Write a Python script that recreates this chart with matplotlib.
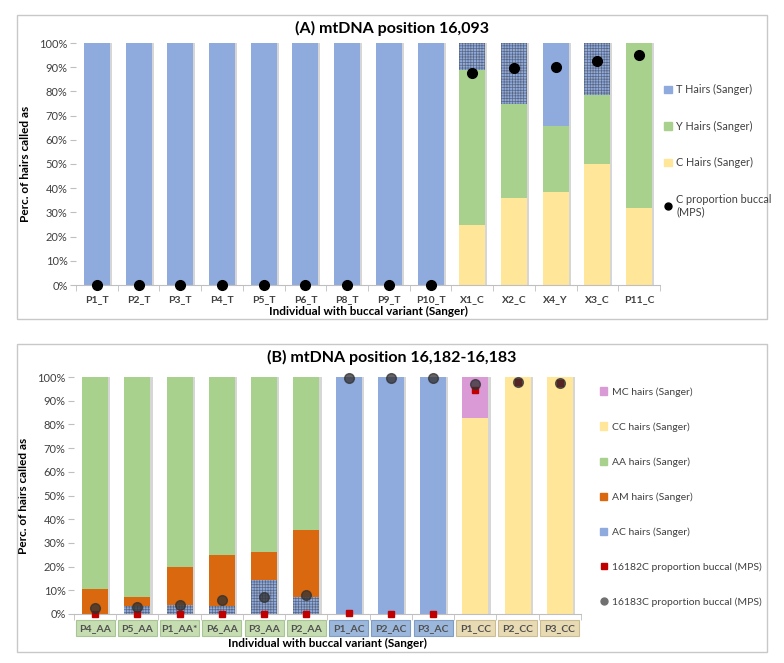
import numpy as np
import matplotlib
matplotlib.use('Agg')
import matplotlib.pyplot as plt
from matplotlib.patches import Rectangle
from matplotlib.transforms import blended_transform_factory
from matplotlib.ticker import PercentFormatter

plt.rcParams['font.family'] = ['Lato', 'DejaVu Sans']
plt.rcParams['hatch.linewidth'] = 0.5

# ---- panel A data (percent) ----
a_labels = ['P1_T', 'P2_T', 'P3_T', 'P4_T', 'P5_T', 'P6_T', 'P8_T', 'P9_T', 'P10_T',
            'X1_C', 'X2_C', 'X4_Y', 'X3_C', 'P11_C']
a_c_hairs = [0, 0, 0, 0, 0, 0, 0, 0, 0, 25, 36, 38.5, 50, 32]
a_y_hairs = [0, 0, 0, 0, 0, 0, 0, 0, 0, 64, 39, 27, 28.5, 68]
a_t_hairs = [100, 100, 100, 100, 100, 100, 100, 100, 100, 0, 0, 34.5, 0, 0]
a_mixed = [0, 0, 0, 0, 0, 0, 0, 0, 0, 11, 25, 0, 21.5, 0]
a_c_buccal = [0, 0, 0, 0, 0, 0, 0, 0, 0, 87.5, 89.5, 90, 92.5, 95]

# ---- panel B data (percent) ----
b_labels = ['P4_AA', 'P5_AA', 'P1_AA*', 'P6_AA', 'P3_AA', 'P2_AA',
            'P1_AC', 'P2_AC', 'P3_AC', 'P1_CC', 'P2_CC', 'P3_CC']
b_groups = ['AA', 'AA', 'AA', 'AA', 'AA', 'AA', 'AC', 'AC', 'AC', 'CC', 'CC', 'CC']
b_mixed = [0, 3.5, 4, 3.5, 14.5, 7, 0, 0, 0, 0, 0, 0]
b_am = [10.5, 3.5, 16, 21.5, 11.5, 28.5, 0, 0, 0, 0, 0, 0]
b_aa = [89.5, 93, 80, 75, 74, 64.5, 0, 0, 0, 0, 0, 0]
b_ac = [0, 0, 0, 0, 0, 0, 100, 100, 100, 0, 0, 0]
b_cc = [0, 0, 0, 0, 0, 0, 0, 0, 0, 82.5, 100, 100]
b_mc = [0, 0, 0, 0, 0, 0, 0, 0, 0, 17.5, 0, 0]
b_16182c = [0, 0, 0, 0, 0, 0, 0.5, 0, 0, 94.5, 98, 97.5]
b_16183c = [2.5, 3, 4, 6, 7, 8, 99.5, 99.5, 99.5, 97, 98, 97.5]

BLUE = '#8faadc'
GREEN = '#a9d18e'
YELLOW = '#ffe699'
ORANGE = '#d9680f'
PINK = '#d99ad6'
HATCH_EDGE = '#5b6780'
TXT = '#404040'
box_colors = {'AA': ('#c5ddb0', '#a9c496'), 'AC': ('#9bb7dc', '#7f9cc4'), 'CC': ('#e8dab2', '#cbbd93')}
W = 0.62

fig = plt.figure(figsize=(7.84, 6.63), dpi=100)

# panel frames (pixel top, height)
for (y0, h) in [(15, 304), (344, 308)]:
    fig.patches.append(Rectangle((17 / 784, 1 - (y0 + h) / 663), 750 / 784, h / 663,
                                 transform=fig.transFigure, fill=False,
                                 edgecolor='#c8c8c8', linewidth=1.0))


def stack(ax, x, vals, color, bottom, hatch=None):
    if hatch:
        ax.bar(x, vals, W, bottom=bottom, color=color, edgecolor=HATCH_EDGE,
               linewidth=0, hatch=hatch, zorder=2)
    else:
        ax.bar(x, vals, W, bottom=bottom, color=color, linewidth=0, zorder=2)
    return bottom + np.array(vals)


def style_axes(ax, n):
    ax.set_xlim(-0.5, n - 0.5)
    ax.set_ylim(0, 100)
    ax.set_yticks(np.arange(0, 101, 10))
    ax.yaxis.set_major_formatter(PercentFormatter(decimals=0))
    for s in ['top', 'right', 'left']:
        ax.spines[s].set_visible(False)
    ax.spines['bottom'].set_color('#bfbfbf')
    ax.spines['bottom'].set_zorder(3)
    ax.tick_params(axis='y', length=4, color='#bfbfbf', labelsize=8, labelcolor=TXT, pad=2)
    ax.set_xticks(np.arange(n))
    ax.set_xticks(np.arange(n + 1) - 0.5, minor=True)
    ax.tick_params(axis='x', which='major', length=0, pad=7)
    ax.tick_params(axis='x', which='minor', length=4, color='#bfbfbf')
    ax.set_ylabel('Perc. of hairs called as', fontsize=8.5, fontweight='bold', color='black', labelpad=6)


# ---------------- panel A ----------------
axA = fig.add_axes([76 / 784, 1 - 285 / 663, 584 / 784, 242 / 663])
xa = np.arange(len(a_labels))
bot = np.zeros(len(xa))
bot = stack(axA, xa, a_c_hairs, YELLOW, bot)
bot = stack(axA, xa, a_y_hairs, GREEN, bot)
bot = stack(axA, xa, a_t_hairs, BLUE, bot)
bot = stack(axA, xa, a_mixed, BLUE, bot, hatch='++++++')
axA.bar(xa + 0.05, bot, W, color='#d6d6d6', linewidth=0, zorder=1)
axA.plot(xa, a_c_buccal, 'o', color='black', markersize=7, linestyle='none', zorder=5, clip_on=False)
style_axes(axA, len(xa))
axA.set_xticklabels(a_labels, fontsize=7.5, fontweight='bold', color=TXT)
axA.set_xlabel('Individual with buccal variant (Sanger)', fontsize=8.5, fontweight='bold')
axA.xaxis.set_label_coords(0.5, -0.108)
axA.xaxis.label.set_va('center')
fig.text(0.5, 1 - 28 / 663, '(A) mtDNA position 16,093', ha='center', va='center',
         fontsize=11.5, fontweight='bold')

a_handles = [Rectangle((0, 0), 1, 1, color=BLUE), Rectangle((0, 0), 1, 1, color=GREEN),
             Rectangle((0, 0), 1, 1, color=YELLOW),
             plt.Line2D([], [], marker='o', color='black', linestyle='none', markersize=5)]
legA = fig.legend(a_handles, ['T Hairs (Sanger)', 'Y Hairs (Sanger)', 'C Hairs (Sanger)',
                              'C proportion buccal\n(MPS)'],
                  loc='upper left', bbox_to_anchor=(660 / 784, 1 - 80 / 663), frameon=False,
                  fontsize=7.8, labelspacing=2.35, handlelength=0.7, handleheight=0.7,
                  handletextpad=0.4, borderaxespad=0)
for t in legA.get_texts():
    t.set_color(TXT)

# ---------------- panel B ----------------
axB = fig.add_axes([74 / 784, 1 - 614 / 663, 507 / 784, 237 / 663])
xb = np.arange(len(b_labels))
bot = np.zeros(len(xb))
bot = stack(axB, xb, b_mixed, BLUE, bot, hatch='++++++')
bot = stack(axB, xb, b_am, ORANGE, bot)
bot = stack(axB, xb, b_aa, GREEN, bot)
bot = stack(axB, xb, b_ac, BLUE, bot)
bot = stack(axB, xb, b_cc, YELLOW, bot)
bot = stack(axB, xb, b_mc, PINK, bot)
axB.bar(xb + 0.05, bot, W, color='#d6d6d6', linewidth=0, zorder=1)
axB.plot(xb, b_16182c, 's', color='#c00000', markersize=5, linestyle='none', zorder=5, clip_on=False)
axB.plot(xb, b_16183c, 'o', color='#303030', alpha=0.75, markersize=7, linestyle='none',
         zorder=6, clip_on=False)
style_axes(axB, len(xb))
axB.set_xticklabels(b_labels, fontsize=7.5, fontweight='bold', color='#505050')
axB.tick_params(axis='x', which='major', pad=7.5)
axB.set_xlabel('Individual with buccal variant (Sanger)', fontsize=8.5, fontweight='bold')
axB.xaxis.set_label_coords(0.5, -0.125)
axB.xaxis.label.set_va('center')
trans = blended_transform_factory(axB.transData, axB.transAxes)
for i, g in enumerate(b_groups):
    fc, ec = box_colors[g]
    axB.add_patch(Rectangle((i - 0.46, -0.092), 0.92, 0.066, transform=trans, facecolor=fc,
                            edgecolor=ec, linewidth=0.8, clip_on=False, zorder=1))
fig.text(0.5, 1 - 357 / 663, '(B) mtDNA position 16,182-16,183', ha='center', va='center',
         fontsize=11.5, fontweight='bold')

b_handles = [Rectangle((0, 0), 1, 1, color=PINK), Rectangle((0, 0), 1, 1, color=YELLOW),
             Rectangle((0, 0), 1, 1, color=GREEN), Rectangle((0, 0), 1, 1, color=ORANGE),
             Rectangle((0, 0), 1, 1, color=BLUE),
             plt.Line2D([], [], marker='s', color='#c00000', linestyle='none', markersize=5),
             plt.Line2D([], [], marker='o', color='#707070', linestyle='none', markersize=5)]
legB = fig.legend(b_handles, ['MC hairs (Sanger)', 'CC hairs (Sanger)', 'AA hairs (Sanger)',
                              'AM hairs (Sanger)', 'AC hairs (Sanger)',
                              '16182C proportion buccal (MPS)', '16183C proportion buccal (MPS)'],
                  loc='upper left', bbox_to_anchor=(596 / 784, 1 - 383 / 663), frameon=False,
                  fontsize=7.5, labelspacing=2.45, handlelength=0.7, handleheight=0.7,
                  handletextpad=0.4, borderaxespad=0)
for t in legB.get_texts():
    t.set_color(TXT)

fig.savefig('out.png', dpi=100)
